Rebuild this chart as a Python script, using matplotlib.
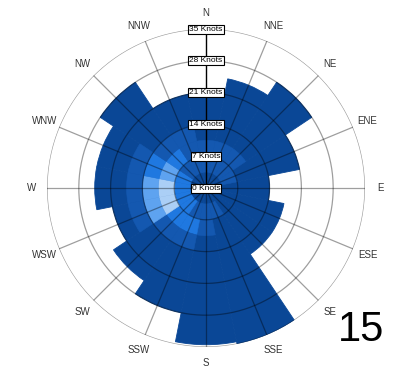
import numpy as np
import matplotlib
matplotlib.use("Agg")
import matplotlib.pyplot as plt

plt.rcParams["font.family"] = ["Liberation Sans", "DejaVu Sans"]

# 16 compass sectors, clockwise from north
directions = ["N", "NNE", "NE", "ENE", "E", "ESE", "SE", "SSE",
              "S", "SSW", "SW", "WSW", "W", "WNW", "NW", "NNW"]

# highest wind speed reached in each sector (knots)
max_speed = [21, 24.5, 28, 21, 14, 17.5, 17.5, 35,
             34.5, 28, 24.5, 21, 24.5, 24.5, 28, 21]

# frequency class of each 3.5-knot speed bin (0 = rare ... 4 = most common)
bin_width = 3.5
freq_class = [
    [0, 1, 1, 0, 0],  # N
    [0, 1, 1, 0, 0],  # NNE
    [0, 1, 1, 0, 0],  # NE
    [0, 1, 0, 0, 0],  # ENE
    [0, 0, 0, 0, 0],  # E
    [0, 0, 0, 0, 0],  # ESE
    [0, 0, 0, 0, 0],  # SE
    [0, 1, 0, 0, 0],  # SSE
    [0, 1, 1, 0, 0],  # S
    [0, 1, 2, 1, 0],  # SSW
    [0, 2, 2, 1, 0],  # SW
    [0, 2, 4, 3, 1],  # WSW
    [0, 2, 4, 3, 1],  # W
    [0, 2, 3, 2, 1],  # WNW
    [0, 1, 2, 1, 0],  # NW
    [0, 1, 1, 1, 0],  # NNW
]

speed_rings = [0, 7, 14, 21, 28, 35]

palette = ["#0a4796", "#1458b0", "#1f78e0", "#5ea3f0", "#abcff6"]

theta = np.deg2rad(np.arange(16) * 22.5)
width = np.deg2rad(22.5)

fig = plt.figure(figsize=(3.95, 3.69), dpi=100)
ax = fig.add_axes([0.119, 0.0596, 0.805, 0.8618], projection="polar")
ax.set_theta_zero_location("N")
ax.set_theta_direction(-1)
ax.set_ylim(0, 35)

# full sector extent in the base colour
ax.bar(theta, max_speed, width=width, bottom=0, color=palette[0],
       edgecolor=palette[0], linewidth=0.6, zorder=1)

# lighter cells for the more frequent speed bins
for i, row in enumerate(freq_class):
    for k, level in enumerate(row):
        if level == 0:
            continue
        lo = k * bin_width
        hi = min(lo + bin_width, max_speed[i])
        ax.bar(theta[i], hi - lo, width=width, bottom=lo,
               color=palette[level], edgecolor=palette[level],
               linewidth=0.4, zorder=2)

# grid drawn over the bars
ax.grid(False)
ax.set_xticks([])
ax.set_yticks([])
ax.spines["polar"].set_visible(False)
circ = np.linspace(0, 2 * np.pi, 400)
for r in speed_rings[1:]:
    ax.plot(circ, np.full_like(circ, r), color="black", alpha=0.38,
            lw=0.9, zorder=3)
for t in theta[1:]:
    ax.plot([t, t], [0, 35], color="black", alpha=0.38, lw=0.9, zorder=3)
ax.plot([0, 0], [0, 35], color="black", lw=1.0, zorder=4)

for t, name in zip(theta, directions):
    ax.text(t, 38.5, name, ha="center", va="center", fontsize=7,
            color="#333333", clip_on=False)

for r in speed_rings:
    ax.text(0, r, f"{r} Knots", ha="center", va="center", fontsize=6,
            zorder=5, bbox=dict(boxstyle="square,pad=0.12", fc="white",
                                ec="black", lw=0.8))

fig.text(361 / 395, 1 - 330 / 369, "15", fontsize=30, ha="center",
         va="center")

fig.savefig("out.png", dpi=100)
